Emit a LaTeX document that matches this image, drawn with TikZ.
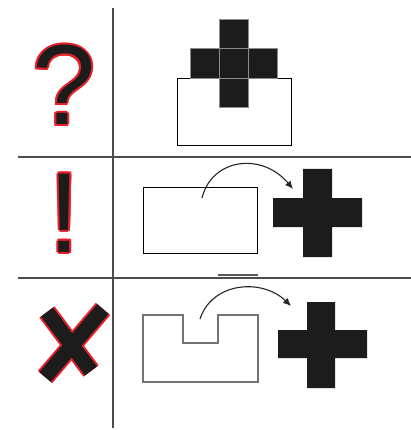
\documentclass[tikz,border=0pt]{standalone}
\usepackage{fontspec}
\newfontfamily\glyphfont{Liberation Sans}
\usetikzlibrary{arrows.meta,calc}
\definecolor{inkblack}{HTML}{1C1C1C}
\definecolor{markred}{HTML}{E8202A}
\tikzset{
  rule/.style={draw=black!70, line width=1.1pt},
  boxline/.style={draw=black, line width=1.3pt},
  greybox/.style={draw=black!55, line width=1.6pt},
  blackcross/.style={fill=inkblack, draw=none},
  cell/.style={fill=inkblack, draw=black!45, line width=0.5pt},
  swoop/.style={draw=black!85, line width=1.1pt, -{Latex[length=8pt,width=7pt]}},
  glyph/.style={inner sep=0pt, anchor=base, font=\glyphfont\fontsize{114}{114}\selectfont},
}
\begin{document}
\begin{tikzpicture}[x=1pt,y=-1pt]
\useasboundingbox (0,0) rectangle (411,430);
\fill[white] (0,0) rectangle (411,430);
% table rules
\coordinate (vt) at (113,8);
\coordinate (vb) at (113,428);
\coordinate (h1l) at (18,157);
\coordinate (h1r) at (411,157);
\coordinate (h2l) at (18,278);
\coordinate (h2r) at (411,278);
\draw[rule] (vt) -- (vb);
\draw[rule] (h1l) -- (h1r);
\draw[rule] (h2l) -- (h2r);
% small bar above second rule
\coordinate (bl) at (218,275);
\coordinate (br) at (258,275);
\draw[draw=black!65, line width=2.6pt] (bl) -- (br);

% question mark
\foreach \a in {0,45,...,315}
  \node[glyph, text=markred] (qr\a) at ($(64,125)+(\a:2)$) {?};
\node[glyph, text=inkblack] (q) at (64,125) {?};

% exclamation mark
\foreach \a in {0,45,...,315}
  \node[glyph, text=markred] (er\a) at ($(64.5,252)+(\a:2)$) {!};
\node[glyph, text=inkblack] (e) at (64.5,252) {!};

% X mark
\coordinate (xa1) at (103,309);
\coordinate (xa2) at (45,377);
\coordinate (xb1) at (47,312);
\coordinate (xb2) at (91,371);
\draw[markred, line width=19pt] (xa1) -- (xa2) (xb1) -- (xb2);
\draw[inkblack, line width=15pt] (xa1) -- (xa2) (xb1) -- (xb2);

% row 1: box with cross sitting in it
\node[boxline, fill=white, minimum width=114pt, minimum height=67pt, inner sep=0pt, anchor=north west] (box1) at (177,78) {};
\path[cell] (219,19) rectangle (248,48);
\path[cell] (190,48) rectangle (219,78);
\path[cell] (219,48) rectangle (248,78);
\path[cell] (248,48) rectangle (277,78);
\path[cell] (219,78) rectangle (248,107);

% row 2: box, arrow, cross
\node[boxline, minimum width=114pt, minimum height=66pt, inner sep=0pt, anchor=north west] (box2) at (143,187) {};
\fill[blackcross] (303,169) -- (332,169) -- (332,198) -- (362,198) -- (362,227) -- (332,227) -- (332,257) -- (303,257) -- (303,227) -- (273,227) -- (273,198) -- (303,198) -- cycle;
\coordinate (a2s) at (202,198);
\coordinate (a2e) at (293,189);
\draw[swoop] (a2s) .. controls (212,158) and (262,152) .. (a2e);

% row 3: notched box, arrow, cross
\draw[greybox] (143,315) -- (183,315) -- (183,343) -- (218,343) -- (218,315) -- (258,315) -- (258,382) -- (143,382) -- cycle;
\fill[blackcross] (307,302) -- (335,302) -- (335,330) -- (367,330) -- (367,358) -- (335,358) -- (335,388) -- (307,388) -- (307,358) -- (278,358) -- (278,330) -- (307,330) -- cycle;
\coordinate (a3s) at (200,319);
\coordinate (a3e) at (291,306);
\draw[swoop] (a3s) .. controls (212,282) and (262,278) .. (a3e);
\end{tikzpicture}
\end{document}
